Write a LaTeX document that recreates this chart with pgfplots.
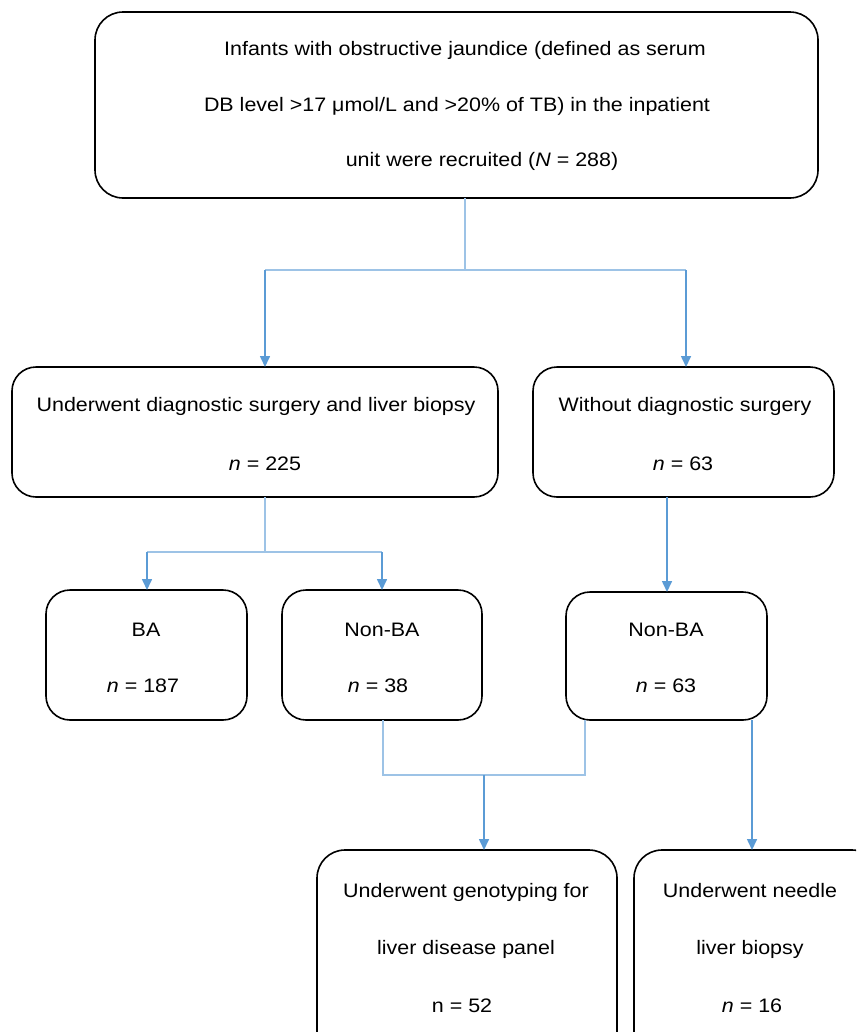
\documentclass[border=0pt]{standalone}
\usepackage{pgfplots}
\pgfplotsset{compat=1.18}
\usepackage{fontspec}
\setmainfont{Liberation Sans}[FakeStretch=1.1]
\usetikzlibrary{arrows.meta}
\definecolor{arr}{HTML}{5B9BD5}
\definecolor{con}{HTML}{9DC3E6}
\newcommand\ff{\fontsize{19.5bp}{22bp}\selectfont}
\tikzset{t/.style={font=\ff,anchor=base,inner sep=0pt}}
\begin{document}
\begin{tikzpicture}
\begin{axis}[width=856bp,height=1032bp,scale only axis,
  xmin=0,xmax=856,ymin=0,ymax=1032,y dir=reverse,hide axis,clip=true]
% boxes
\addplot[black,line width=1.6bp,rounded corners=28bp] coordinates {(456,12)(818,12)(818,198)(95,198)(95,12)(460,12)};
\addplot[black,line width=1.6bp,rounded corners=24bp] coordinates {(255,367)(498,367)(498,497)(12,497)(12,367)(260,367)};
\addplot[black,line width=1.6bp,rounded corners=24bp] coordinates {(683,367)(834,367)(834,497)(533,497)(533,367)(688,367)};
\addplot[black,line width=1.6bp,rounded corners=24bp] coordinates {(147,590)(247,590)(247,720)(46,720)(46,590)(150,590)};
\addplot[black,line width=1.6bp,rounded corners=24bp] coordinates {(382,590)(482,590)(482,720)(282,720)(282,590)(385,590)};
\addplot[black,line width=1.6bp,rounded corners=24bp] coordinates {(666,592)(767,592)(767,720)(566,720)(566,592)(670,592)};
\addplot[black,line width=1.6bp,rounded corners=28bp] coordinates {(467,850)(617,850)(617,1060)(317,1060)(317,850)(470,850)};
\addplot[black,line width=1.6bp,rounded corners=28bp] coordinates {(750,850)(880,850)(880,1060)(634,1060)(634,850)(755,850)};
% connectors
\addplot[con,line width=1.2bp] coordinates {(465,198)(465,270)};
\addplot[con,line width=1.2bp] coordinates {(265,270)(686,270)};
\addplot[con,line width=1.2bp] coordinates {(265,497)(265,552)};
\addplot[con,line width=1.2bp] coordinates {(147,552)(382,552)};
\addplot[con,line width=1.2bp] coordinates {(383,720)(383,775)(585,775)(585,720)};
% arrows
\addplot[arr,line width=1.6bp,-{Triangle[width=10bp,length=11bp]}] coordinates {(265,270)(265,367)};
\addplot[arr,line width=1.6bp,-{Triangle[width=10bp,length=11bp]}] coordinates {(686,270)(686,367)};
\addplot[arr,line width=1.6bp,-{Triangle[width=10bp,length=11bp]}] coordinates {(147,552)(147,590)};
\addplot[arr,line width=1.6bp,-{Triangle[width=10bp,length=11bp]}] coordinates {(382,552)(382,590)};
\addplot[arr,line width=1.6bp,-{Triangle[width=10bp,length=11bp]}] coordinates {(667,497)(667,592)};
\addplot[arr,line width=1.6bp,-{Triangle[width=10bp,length=11bp]}] coordinates {(484,775)(484,850)};
\addplot[arr,line width=1.6bp,-{Triangle[width=10bp,length=11bp]}] coordinates {(752,720)(752,850)};
% texts
\node[t] at (axis cs:465,55) {Infants with obstructive jaundice (defined as serum};
\node[t] at (axis cs:457,111) {DB level >17 μmol/L and >20\% of TB) in the inpatient};
\node[t] at (axis cs:482,166) {unit were recruited (\textit{N} = 288)};
\node[t] at (axis cs:256,411) {Underwent diagnostic surgery and liver biopsy};
\node[t] at (axis cs:265,470) {\textit{n} = 225};
\node[t] at (axis cs:685,411) {Without diagnostic surgery};
\node[t] at (axis cs:683,470) {\textit{n} = 63};
\node[t] at (axis cs:146,636) {BA};
\node[t] at (axis cs:143,692) {\textit{n} = 187};
\node[t] at (axis cs:382,636) {Non-BA};
\node[t] at (axis cs:378,692) {\textit{n} = 38};
\node[t] at (axis cs:666,636) {Non-BA};
\node[t] at (axis cs:666,692) {\textit{n} = 63};
\node[t] at (axis cs:466,897) {Underwent genotyping for};
\node[t] at (axis cs:466,954) {liver disease panel};
\node[t] at (axis cs:462,1012) {n = 52};
\node[t] at (axis cs:750,897) {Underwent needle};
\node[t] at (axis cs:750,954) {liver biopsy};
\node[t] at (axis cs:752,1012) {\textit{n} = 16};
\end{axis}
\pgfresetboundingbox
\path (current axis.south west) rectangle (current axis.north east);
\end{tikzpicture}
\end{document}
